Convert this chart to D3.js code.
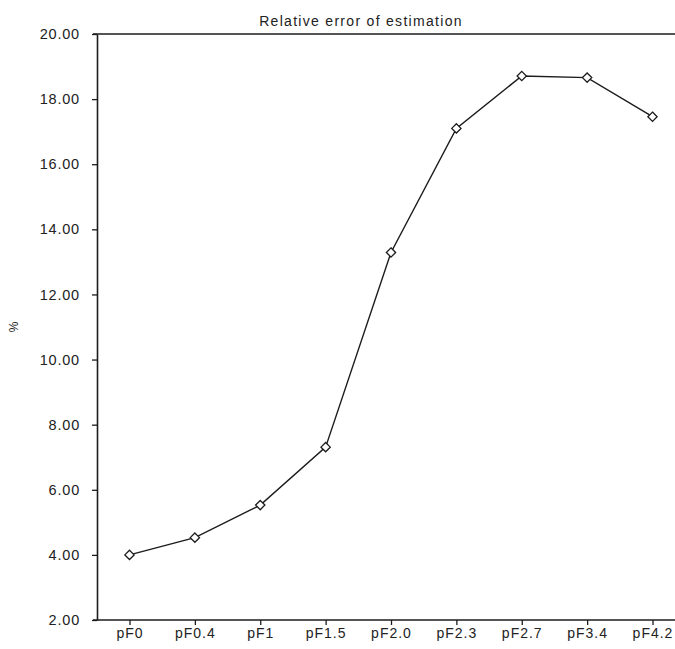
<!DOCTYPE html>
<html>
<head>
<meta charset="utf-8">
<script src="https://cdn.jsdelivr.net/npm/d3@7/dist/d3.min.js"></script>
<style>
  html, body { margin: 0; padding: 0; background: #fff; }
  svg { display: block; }
  text { font-family: "Liberation Sans", "DejaVu Sans", sans-serif; fill: #222; }
</style>
</head>
<body>
<svg id="chart" width="675" height="649"></svg>
<script>
const categories = ["pF0", "pF0.4", "pF1", "pF1.5", "pF2.0", "pF2.3", "pF2.7", "pF3.4", "pF4.2"];
const errorValues = [4.00, 4.53, 5.53, 7.31, 13.29, 17.10, 18.71, 18.66, 17.46];
const yTicks = [2, 4, 6, 8, 10, 12, 14, 16, 18, 20];
const titleText = "Relative error of estimation";
const yLabel = "%";

const W = 675, H = 649;
const mLeft = 97, mRight = 675, mTop = 34, mBottom = 620;

const svg = d3.select("#chart");

const x = d3.scalePoint().domain(categories).range([129.5, 652.5]).padding(0);
const y = d3.scaleLinear().domain([2, 20]).range([mBottom, mTop]);

const ink = "#1c1c1c";

// Y axis
const yAxis = svg.append("g")
  .attr("transform", `translate(${mLeft},0)`)
  .call(d3.axisLeft(y).tickValues(yTicks).tickFormat(d3.format(".2f")).tickSize(5).tickSizeOuter(0).tickPadding(12));
yAxis.select(".domain").attr("stroke", ink).attr("stroke-width", 1.6);
yAxis.selectAll(".tick line").attr("stroke", ink).attr("stroke-width", 1.3);
yAxis.selectAll(".tick text").style("font-size", "14.5px").style("letter-spacing", "0.8px").attr("fill", "#222");

// X axis
const xAxis = svg.append("g")
  .attr("transform", `translate(0,${mBottom})`)
  .call(d3.axisBottom(x).tickSize(5).tickSizeOuter(0).tickPadding(3));
xAxis.select(".domain").remove();
xAxis.selectAll(".tick line").attr("stroke", ink).attr("stroke-width", 1.3);
xAxis.selectAll(".tick text").style("font-size", "14px").style("letter-spacing", "1px").attr("fill", "#222");

// bottom and top frame lines
svg.append("line").attr("x1", mLeft - 4).attr("x2", mRight).attr("y1", y(2)).attr("y2", y(2))
  .attr("stroke", ink).attr("stroke-width", 1.6);
svg.append("line").attr("x1", mLeft - 4).attr("x2", mRight).attr("y1", y(20)).attr("y2", y(20))
  .attr("stroke", ink).attr("stroke-width", 1.6);

// Title
svg.append("text")
  .attr("x", 361).attr("y", 26)
  .attr("text-anchor", "middle")
  .style("font-size", "14px")
  .style("letter-spacing", "1.3px")
  .text(titleText);

// Y label
svg.append("text")
  .attr("transform", `translate(14,${y(11)}) rotate(-90)`)
  .attr("text-anchor", "middle")
  .attr("dy", "0.35em")
  .style("font-size", "12px")
  .text(yLabel);

// Line
const data = categories.map((c, i) => ({ c, v: errorValues[i] }));
svg.append("path")
  .datum(data)
  .attr("fill", "none")
  .attr("stroke", ink)
  .attr("stroke-width", 1.4)
  .attr("d", d3.line().x(d => x(d.c)).y(d => y(d.v)));

// Diamond markers
svg.selectAll(".pt")
  .data(data)
  .join("path")
  .attr("class", "pt")
  .attr("transform", d => `translate(${x(d.c)},${y(d.v)})`)
  .attr("d", d3.symbol().type(d3.symbolDiamond2).size(55)())
  .attr("fill", "#fff")
  .attr("stroke", ink)
  .attr("stroke-width", 1.3);
</script>
</body>
</html>
